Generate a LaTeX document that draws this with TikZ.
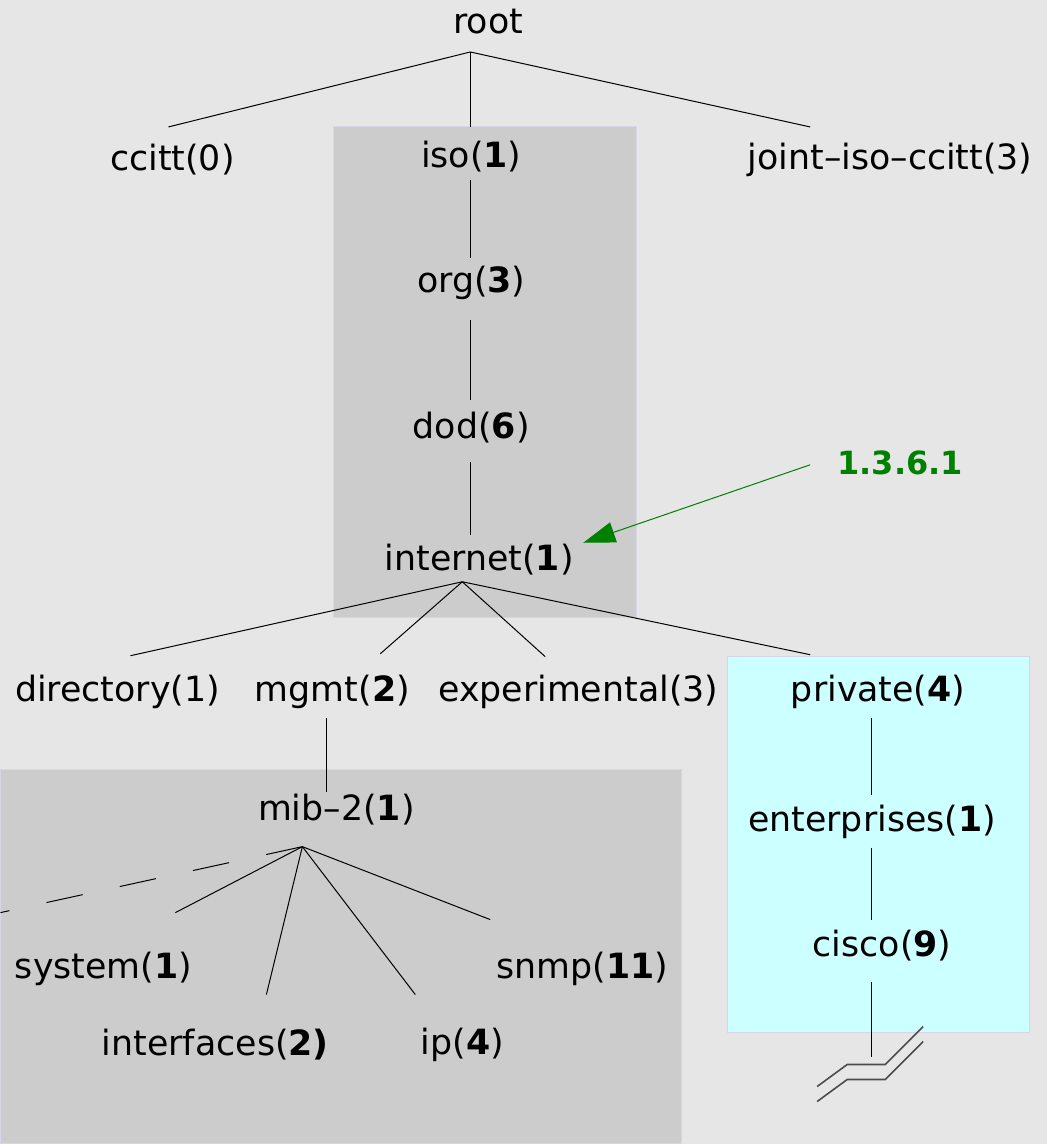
\documentclass[tikz,border=0pt]{standalone}
\usepackage{fontspec}
\setmainfont{DejaVu Sans}
\usetikzlibrary{calc,arrows.meta}

\definecolor{bggray}{HTML}{E6E6E6}
\definecolor{boxgray}{HTML}{CCCCCC}
\definecolor{boxcyan}{HTML}{CCFFFF}
\definecolor{boxedge}{HTML}{D6D6E6}
\definecolor{oidgreen}{HTML}{008000}

\tikzset{
  leaf/.style={font=\fontsize{17.4}{21}\selectfont, inner sep=2pt},
  tie/.style={draw=black, line width=0.5pt},
  band/.style={fill=#1, draw=boxedge, line width=0.5pt},
  cutline/.style={draw=black!70, line width=0.8pt}
}

\begin{document}
\begin{tikzpicture}[x=0.5pt,y=-0.5pt]
% backdrop and boxes
\fill [bggray] (0,0) rectangle (1047,1144);
\filldraw [band=boxgray] (333,127) rectangle (636,618);
\filldraw [band=boxgray] (0,770) rectangle (681,1144);
\filldraw [band=boxcyan] (727,657) rectangle (1029,1033);

% top of the tree
\node [leaf] (root) at (488,22) {root};
\node [leaf] (ccitt) at (172,160) {ccitt(0)};
\node [leaf] (iso) at (471,157) {iso(\textbf{1})};
\node [leaf] (joint) at (890,160) {joint–iso–ccitt(3)};
\node [leaf] (org) at (471,283) {org(\textbf{3})};
\node [leaf] (dod) at (471,428) {dod(\textbf{6})};
\node [leaf] (internet) at (479,560) {internet(\textbf{1})};
\node [leaf, font=\fontsize{16}{20}\selectfont\bfseries, text=oidgreen] (oid) at (900,463) {1.3.6.1};

% under internet
\node [leaf] (directory) at (117,692) {directory(1)};
\node [leaf] (mgmt) at (332,692) {mgmt(\textbf{2})};
\node [leaf] (experimental) at (578,692) {experimental(3)};
\node [leaf] (private) at (878,692) {private(\textbf{4})};
\node [leaf] (mib) at (336,810) {mib–2(\textbf{1})};
\node [leaf] (enterprises) at (872,822) {enterprises(\textbf{1})};
\node [leaf] (cisco) at (882,946) {cisco(\textbf{9})};

% under mib-2
\node [leaf] (system) at (103,969) {system(\textbf{1})};
\node [leaf] (snmp) at (582,969) {snmp(\textbf{11})};
\node [leaf] (interfaces) at (215,1045) {interfaces(\textbf{2)}};
\node [leaf] (ip) at (462,1045) {ip(\textbf{4})};

\coordinate (roothub) at ($(root)+(-18,30)$);
\coordinate (nethub) at ($(internet)+(-17,22)$);
\coordinate (mibhub) at ($(mib)+(-34,37)$);
\coordinate (offleft) at (0,913);
\coordinate (cut) at ($(cisco)+(-11,111)$);

\draw [tie] (roothub) -- ($(ccitt)+(-4,-33)$);
\draw [tie] (roothub) -- ($(iso)+(-1,-30)$);
\draw [tie] (roothub) -- ($(joint)+(-80,-33)$);
\draw [tie] ($(iso)+(-1,23)$) -- ($(org)+(-1,-25)$);
\draw [tie] ($(org)+(-1,37)$) -- ($(dod)+(-1,-28)$);
\draw [tie] ($(dod)+(-1,34)$) -- ($(internet)+(-9,-25)$);

\draw [tie] (nethub) -- ($(directory)+(13,-36)$);
\draw [tie] (nethub) -- ($(mgmt)+(48,-38)$);
\draw [tie] (nethub) -- ($(experimental)+(-33,-35)$);
\draw [tie] (nethub) -- ($(private)+(-68,-37)$);
\draw [tie] ($(mgmt)+(-6,26)$) -- ($(mib)+(-10,-18)$);
\draw [tie] ($(private)+(-7,26)$) -- ($(enterprises)+(-1,-27)$);
\draw [tie] ($(enterprises)+(-1,26)$) -- ($(cisco)+(-11,-26)$);
\draw [tie] ($(cisco)+(-11,36)$) -- (cut);

\draw [tie] (mibhub) -- ($(system)+(72,-56)$);
\draw [tie] (mibhub) -- ($(interfaces)+(51,-50)$);
\draw [tie] (mibhub) -- ($(ip)+(-47,-50)$);
\draw [tie] (mibhub) -- ($(snmp)+(-92,-49)$);
\draw [tie, dash pattern=on 18.5pt off 19pt] (mibhub) -- (offleft);

% the cut
\draw [cutline] ($(cut)+(-54,30)$) -- ($(cut)+(-24,8)$) -- ($(cut)+(14,8)$) -- ($(cut)+(52,-30)$);
\draw [cutline] ($(cut)+(-54,45)$) -- ($(cut)+(-24,23)$) -- ($(cut)+(14,23)$) -- ($(cut)+(52,-15)$);

% oid pointer
\draw [oidgreen, line width=0.5pt, -{Triangle[length=16pt,width=10.5pt]}] ($(oid)+(-90,2)$) -- ($(internet)+(104,-17)$);
\end{tikzpicture}
\end{document}
